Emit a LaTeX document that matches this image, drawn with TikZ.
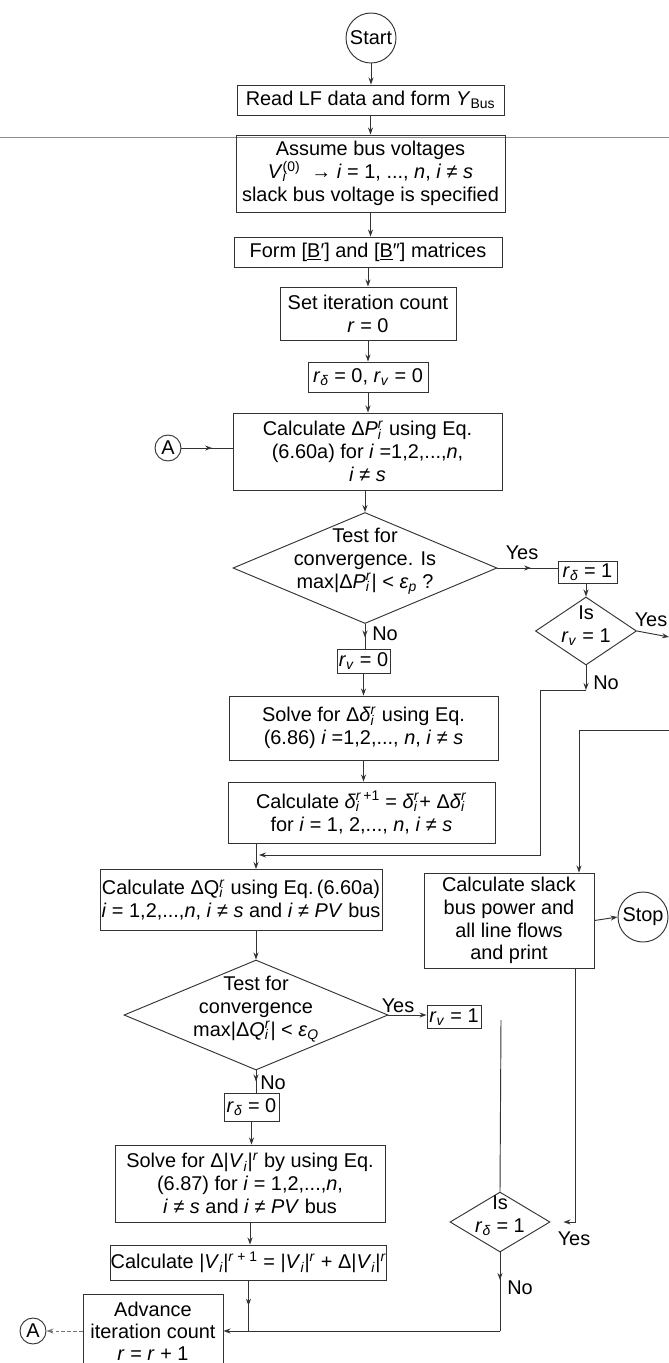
\documentclass[tikz,border=0pt]{standalone}
\usepackage{fontspec}
\setmainfont{Liberation Sans}
\usetikzlibrary{shapes.geometric, arrows.meta, decorations.markings}
\newcommand\pxu{0.03cm}
\newcommand\fsz{\fontsize{17}{19.5}\selectfont}
\newcommand\fsztight{\fontsize{17}{18.6}\selectfont}
\newcommand\supsub[2]{\rlap{\textsubscript{#2}}\textsuperscript{#1}}
\newcommand\iv[1]{\textit{#1}}

\begin{document}
\begin{tikzpicture}[x=0.03cm, y=-0.03cm,
  >={Stealth[length=2.1mm,width=1.5mm]},
  ln/.style={draw=black!80, line width=0.8pt},
  box/.style={ln, rectangle, inner sep=0pt, align=center, font=\fsz},
  circ/.style={ln, circle, inner sep=0pt, font=\fsz},
  dia/.style={ln, diamond, inner sep=0pt},
  txt/.style={inner sep=0pt, align=center, font=\fsz},
  lbl/.style={inner sep=0pt, font=\fsz},
  arr/.style={ln, ->},
  plain/.style={ln},
  tipat/.style={ln, postaction={decorate},
    decoration={markings, mark=at position #1 with {\arrow{>}}}},
]
\useasboundingbox (0,0) rectangle (669,1363);
\clip (0,0) rectangle (669,1363);
\fill[white] (0,0) rectangle (669,1363);

% faint rule across the page
\draw[black!45, line width=0.8pt] (0,137) -- (669,137);

% ---------- main column ----------
\node[circ, minimum size=50*\pxu] (start) at (371,38) {Start};
\node[box, minimum width=267*\pxu, minimum height=30*\pxu] (readlf) at (370.5,100)
  {Read LF data and form \iv{Y}\textsubscript{Bus}};
\node[box, minimum width=269*\pxu, minimum height=77*\pxu] (assume) at (370.5,173.5)
  {Assume bus voltages\\ \iv{V}\supsub{(0)}{\iv{i}}\ \ → \iv{i} = 1, ..., \iv{n}, \iv{i} ≠ \iv{s}\\ slack bus voltage is specified};
\node[box, minimum width=268*\pxu, minimum height=30*\pxu] (formB) at (368,252)
  {Form [\underline{B}′] and [\underline{B}″] matrices};
\node[box, minimum width=176*\pxu, minimum height=53*\pxu] (setit) at (368,313.5)
  {Set iteration count\\ \iv{r} = 0};
\node[box, minimum width=120*\pxu, minimum height=30*\pxu] (rinit) at (368,377)
  {\iv{r}\textsubscript{\iv{δ}} = 0, \iv{r}\textsubscript{\iv{v}} = 0};
\node[box, minimum width=269*\pxu, minimum height=77*\pxu] (calcP) at (367.5,451.5)
  {Calculate Δ\iv{P}\supsub{\iv{r}}{\iv{i}} using Eq.\\ (6.60a) for \iv{i} =1,2,...,\iv{n},\\ \iv{i} ≠ \iv{s}};
\node[circ, minimum size=26*\pxu] (A1) at (168,448) {A};

\node[dia, minimum width=264*\pxu, minimum height=111*\pxu] (test1) at (365,568) {};
\node[txt] (test1t) at (365,561)
  {Test for\\ convergence. Is\\ max|Δ\iv{P}\supsub{\iv{r}}{\iv{i}}| < \iv{ε}\textsubscript{\iv{p}} ?};

\node[box, minimum width=59*\pxu, minimum height=22*\pxu] (rd1) at (587.5,572)
  {\iv{r}\textsubscript{\iv{δ}} = 1};
\node[dia, minimum width=101*\pxu, minimum height=68*\pxu] (isrv) at (586,631) {};
\node[txt] (isrvt) at (586,626) {Is\\ \iv{r}\textsubscript{\iv{v}} = 1};

\node[box, minimum width=53*\pxu, minimum height=24*\pxu] (rv0) at (363.5,661)
  {\iv{r}\textsubscript{\iv{v}} = 0};
\node[box, minimum width=269*\pxu, minimum height=64*\pxu] (solveD) at (363.5,728)
  {Solve for Δ\iv{δ}\supsub{\iv{r}}{\iv{i}} using Eq.\\ (6.86) \iv{i} =1,2,..., \iv{n}, \iv{i} ≠ \iv{s}};
\node[box, minimum width=267*\pxu, minimum height=61*\pxu] (calcD) at (361.5,812.5)
  {Calculate \iv{δ}\supsub{\iv{r}\,+1}{\iv{i}} = \iv{δ}\supsub{\iv{r}}{\iv{i}}+ Δ\iv{δ}\supsub{\iv{r}}{\iv{i}}\\ for \iv{i} = 1, 2,..., \iv{n}, \iv{i} ≠ \iv{s}};

\node[box, minimum width=282*\pxu, minimum height=61*\pxu] (calcQ) at (241,900)
  {Calculate ΔQ\supsub{\iv{r}}{\iv{i}} using Eq.\,(6.60a)\\ \iv{i} = 1,2,...,\iv{n}, \iv{i} ≠ \iv{s} and \iv{i} ≠ \iv{PV} bus};
\node[box, minimum width=170*\pxu, minimum height=95*\pxu] (slack) at (509,920.5)
  {Calculate slack\\ bus power and\\ all line flows\\ and print};
\node[circ, minimum size=50*\pxu] (stop) at (643,917) {Stop};

\node[dia, minimum width=264*\pxu, minimum height=110*\pxu] (test2) at (256,1015) {};
\node[txt] (test2t) at (256,1009)
  {Test for\\ convergence\\ max|Δ\iv{Q}\supsub{\iv{r}}{\iv{i}}| < \iv{ε}\textsubscript{\iv{Q}}};
\node[box, minimum width=54*\pxu, minimum height=23*\pxu] (rv1) at (454,1017)
  {\iv{r}\textsubscript{\iv{v}} = 1};
\node[box, minimum width=55*\pxu, minimum height=28*\pxu] (rd0) at (251.5,1107)
  {\iv{r}\textsubscript{\iv{δ}} = 0};
\node[box, minimum width=270*\pxu, minimum height=77*\pxu] (solveV) at (250,1183.5)
  {Solve for Δ|\iv{V}\textsubscript{\iv{i}}|\textsuperscript{\iv{r}} by using Eq.\\ (6.87) for \iv{i} = 1,2,...,\iv{n},\\ \iv{i} ≠ \iv{s} and \iv{i} ≠ \iv{PV} bus};
\node[box, minimum width=269*\pxu, minimum height=35*\pxu] (calcV) at (248.5,1262.5)
  {Calculate |\iv{V}\textsubscript{\iv{i}}|\textsuperscript{\iv{r} + 1} = |\iv{V}\textsubscript{\iv{i}}|\textsuperscript{\iv{r}} + Δ|\iv{V}\textsubscript{\iv{i}}|\textsuperscript{\iv{r}}};
\node[dia, minimum width=100*\pxu, minimum height=60*\pxu] (rd1q) at (500,1222) {};
\node[txt] (rd1qt) at (500,1216) {Is\\ \iv{r}\textsubscript{\iv{δ}} = 1};
\node[box, font=\fsztight, minimum width=140*\pxu, minimum height=74*\pxu] (adv) at (153,1331)
  {Advance\\ iteration count\\ \iv{r} = \iv{r} + 1};
\node[circ, minimum size=26*\pxu] (A2) at (33,1331) {A};

% ---------- branch labels ----------
\node[lbl] (y1) at (522,553) {Yes};
\node[lbl] (n1) at (385,634) {No};
\node[lbl] (y2) at (651,620) {Yes};
\node[lbl] (n2) at (606,683) {No};
\node[lbl] (y3) at (398,1006) {Yes};
\node[lbl] (n3) at (273,1083) {No};
\node[lbl] (y4) at (574,1239) {Yes};
\node[lbl] (n4) at (520,1288) {No};

% ---------- junction points ----------
\coordinate (edgeY) at (669,637);
\coordinate (noA) at (586,690);
\coordinate (noB) at (540,690);
\coordinate (noC) at (540,855);
\coordinate (noD) at (259,855);
\coordinate (edgeT) at (669,730);
\coordinate (sk) at (579,730);
\coordinate (sj) at (575,1222);
\coordinate (rvdrop) at (501,1020);
\coordinate (jn) at (rd1q.south |- adv.east);

% ---------- connectors ----------
\draw[arr] (start.south) -- (start.south |- readlf.north);
\draw[arr] (readlf.south) -- (readlf.south |- assume.north);
\draw[arr] (assume.south) -- (assume.south |- formB.north);
\draw[arr] (formB.south) -- (formB.south |- setit.north);
\draw[arr] (setit.south) -- (setit.south |- rinit.north);
\draw[arr] (rinit.south) -- (rinit.south |- calcP.north);
\draw[tipat=0.6] (A1.east) -- (A1.east -| calcP.west);
\draw[arr] (test1.north |- calcP.south) -- (test1.north);

\draw[tipat=0.56] (test1.east) -- (test1.east -| rd1.west);
\draw[arr] (isrv.north |- rd1.south) -- (isrv.north);
\draw[arr] (isrv.east) -- (edgeY);
\draw[arr] (isrv.south) -- (noA);
\draw[arr] (noA) -- (noB) -- (noC) -- (noD);

\draw[tipat=0.55] (test1.south) -- (test1.south |- rv0.north);
\draw[arr] (rv0.south) -- (rv0.south |- solveD.north);
\draw[arr] (solveD.south) -- (solveD.south |- calcD.north);
\draw[arr] (calcD.south -| test2.north) -- (test2.north |- calcQ.north);
\draw[arr] (test2.north |- calcQ.south) -- (test2.north);

\draw[arr] (edgeT) -- (sk) -- (sk |- slack.north);
\draw[arr] (slack.east) -- (stop.west);
\draw[arr, shorten >=13*\pxu] (slack.south -| sj) -- (sj) -- (rd1q.east);

\draw[arr] (test2.east) -- (test2.east -| rv1.west);
\draw[plain] (rvdrop) -- (rd1q.north);
\draw[tipat=0.5] (test2.south) -- (test2.south |- rd0.north);
\draw[arr] (rd0.south) -- (rd0.south |- solveV.north);
\draw[arr] (solveV.south) -- (solveV.south |- calcV.north);
\draw[tipat=0.5] (calcV.south) -- (calcV.south |- adv.east);
\draw[tipat=0.35] (rd1q.south) -- (jn);
\draw[arr] (jn) -- (adv.east);
\draw[arr, draw=black!55, densely dashed] (adv.west) -- (A2.east);
\end{tikzpicture}
\end{document}
